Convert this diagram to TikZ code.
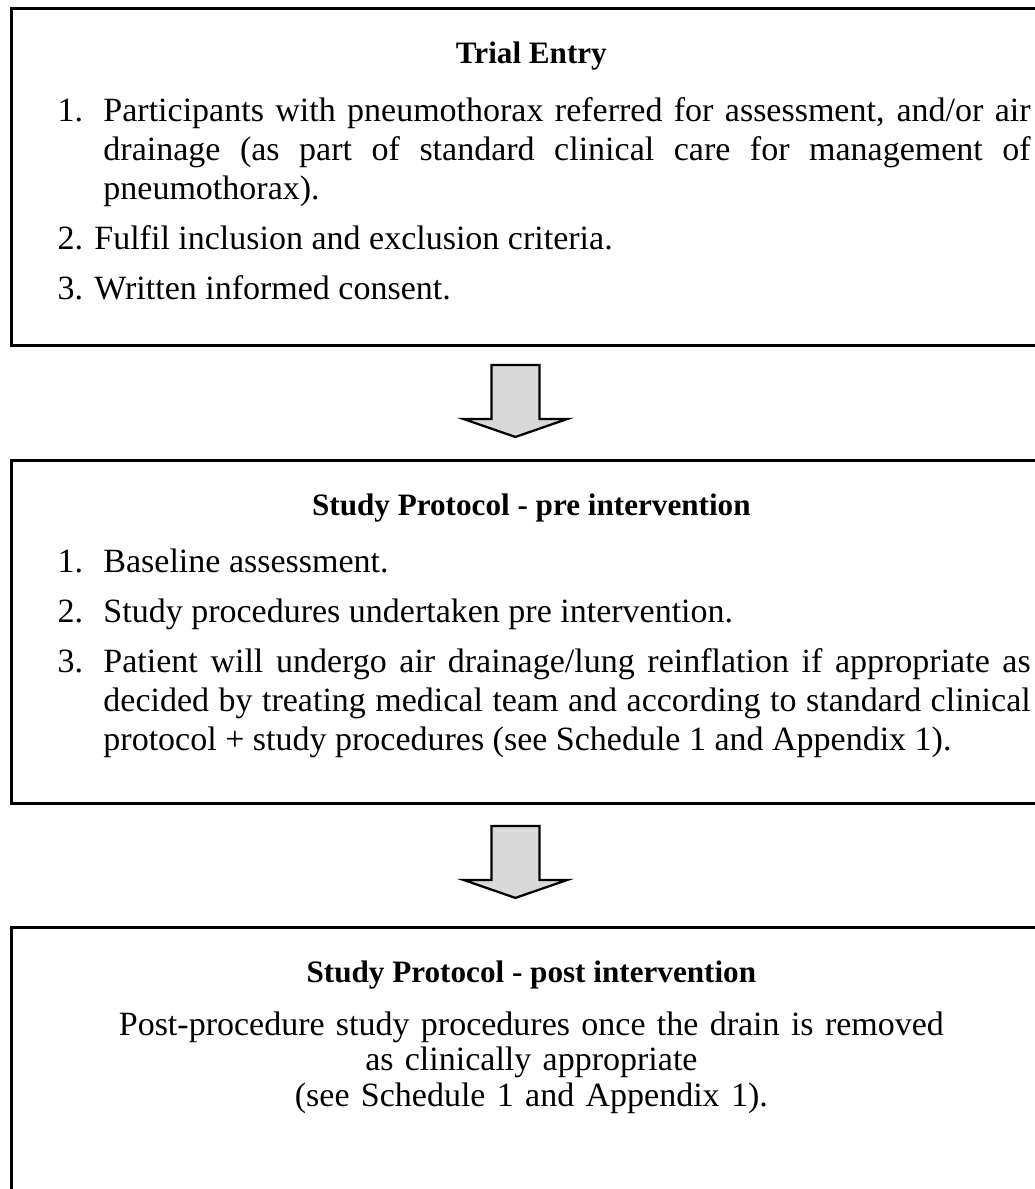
\documentclass[tikz,border=0pt]{standalone}
\usepackage{fontspec}
\setmainfont{Liberation Serif}
\usetikzlibrary{positioning, calc}
\definecolor{arrowGrey}{HTML}{D9D9D9}

% numbered entry with hanging indent
\newcommand{\listentry}[2]{\hangindent=16.2pt\hangafter=1\noindent\makebox[16.2pt][l]{#1}#2\par}

\begin{document}
\begin{tikzpicture}[
  x=0.353pt, y=-0.353pt,
  font=\fontsize{12}{13.8}\selectfont,
  box/.style={draw=black, line width=1pt, minimum width=367.1pt, inner sep=0pt, anchor=north west},
  heading/.style={font=\fontsize{11}{12.6}\selectfont\bfseries, anchor=base, inner sep=0pt},
  steptext/.style={anchor=base west, inner sep=0pt, text width=343.5pt, align=justify},
  notetext/.style={anchor=base, inner sep=0pt, text width=320pt, align=center,
                   font=\fontsize{12}{12.6}\selectfont},
  blockarrow/.style={draw=black, line width=0.8pt, fill=arrowGrey, line join=miter}
]
\useasboundingbox (0,0) rectangle (1035,1189);

% boxes
\node[box, minimum height=119pt] (entry) at (10,7) {};
\node[box, minimum height=121.1pt] (pre) at (10,459) {};
\node[box, minimum height=95pt] (post) at (10,926) {};

% trial entry
\node[heading] (entryhead) at ($(entry.north)+(0,56)$) {Trial Entry};
\node[steptext] (entrylist) at ($(entry.north west)+(47,114)$) {\setlength{\parskip}{3.85pt}%
  \listentry{1.}{Participants with pneumothorax referred for assessment, and/or air\linebreak
  drainage (as part of standard clinical care for management of\linebreak pneumothorax).}%
  \noindent 2. Fulfil inclusion and exclusion criteria.\par
  \noindent 3. Written informed consent.\par};

% pre intervention
\node[heading] (prehead) at ($(pre.north)+(0,56)$) {Study Protocol - pre intervention};
\node[steptext] (prelist) at ($(pre.north west)+(47,113)$) {\setlength{\parskip}{3.85pt}%
  \listentry{1.}{Baseline assessment.}%
  \listentry{2.}{Study procedures undertaken pre intervention.}%
  \listentry{3.}{Patient will undergo air drainage/lung reinflation if appropriate as\linebreak
  decided by treating medical team and according to standard clinical\linebreak
  protocol + study procedures (see Schedule 1 and Appendix 1).}};

% post intervention
\node[heading] (posthead) at ($(post.north)+(0,56)$) {Study Protocol - post intervention};
\node[notetext] (postnote) at ($(post.north)+(0,109)$) {Post-procedure study procedures once the drain is removed\\
  as clinically appropriate\\
  (see Schedule 1 and Appendix 1).};

% arrows between boxes
\draw[blockarrow] ($(entry.south)+(-40,18)$) -- ++(48,0) -- ++(0,54) -- ++(28,0)
  -- ++(-52,18) -- ++(-52,-18) -- ++(28,0) -- cycle;
\draw[blockarrow] ($(pre.south)+(-40,21)$) -- ++(48,0) -- ++(0,54) -- ++(28,0)
  -- ++(-52,18) -- ++(-52,-18) -- ++(28,0) -- cycle;

\end{tikzpicture}
\end{document}
